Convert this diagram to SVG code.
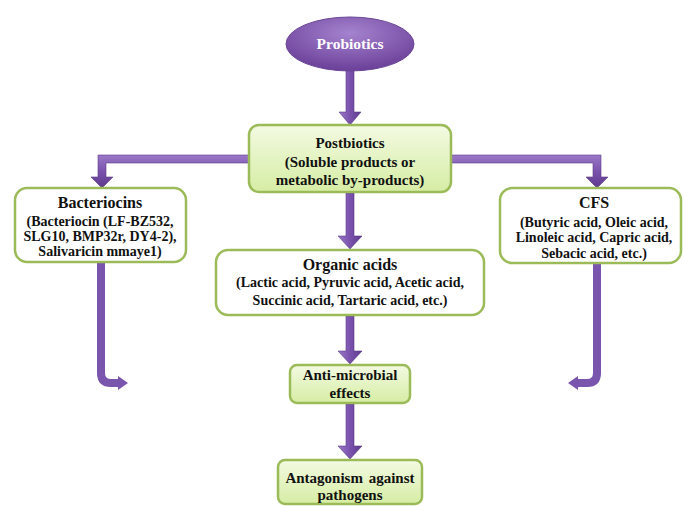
<svg xmlns="http://www.w3.org/2000/svg" width="683" height="506" viewBox="0 0 683 506">
<defs>
<radialGradient id="ellG" cx="50%" cy="30%" r="70%">
<stop offset="0" stop-color="#a583cf"/>
<stop offset="1" stop-color="#6a3f98"/>
</radialGradient>
<linearGradient id="greenG" x1="0" y1="0" x2="0" y2="1">
<stop offset="0" stop-color="#f3fae2"/>
<stop offset="1" stop-color="#d6eda4"/>
</linearGradient>
<linearGradient id="arrV" x1="0" y1="0" x2="1" y2="0">
<stop offset="0" stop-color="#9a78c8"/>
<stop offset="0.5" stop-color="#7a52ad"/>
<stop offset="1" stop-color="#5d3a8c"/>
</linearGradient>
<linearGradient id="arrH" x1="0" y1="0" x2="0" y2="1">
<stop offset="0" stop-color="#9a78c8"/>
<stop offset="0.5" stop-color="#7a52ad"/>
<stop offset="1" stop-color="#5d3a8c"/>
</linearGradient>
</defs>
<style>
text { font-family: "Liberation Serif", "Times New Roman", serif; font-weight: bold; fill: #111; text-anchor: middle; }
.t { font-size: 15px; }
.h { font-size: 16px; }
.s { font-size: 14px; }
.w { fill: #ffffff; font-size: 15.5px; }
.gbox { fill: url(#greenG); stroke: #9bbb59; stroke-width: 2.5; }
.wbox { fill: #ffffff; stroke: #9bbb59; stroke-width: 2.5; }
.arr { fill: url(#arrV); stroke: #5a3a86; stroke-width: 0.6; }
.arrh { fill: url(#arrH); stroke: #5a3a86; stroke-width: 0.6; }
.curve { fill: none; stroke: #7a55ad; stroke-width: 8; }
.head { fill: #7a55ad; }
</style>

<g id="connectors">
<polygon class="arr" points="346,70 354,70 354,112 361,112 350,125 339,112 346,112"/>
<path class="arrh" d="M249,155 H98 V177 H91 L102,188 L113,177 H106 V163 H249 Z"/>
<path class="arrh" d="M451,155 H601 V177 H608 L597,188 L586,177 H593 V163 H451 Z"/>
<polygon class="arr" points="346,193 354,193 354,236 362,236 350,249 338,236 346,236"/>
<polygon class="arr" points="346,316 354,316 354,351 362,351 350,364 338,351 346,351"/>
<polygon class="arr" points="346,404 354,404 354,446 362,446 350,459 338,446 346,446"/>
<path class="curve" d="M101,263 V373 Q101,383 111,383 H119"/>
<polygon class="head" points="118,376 128,383 118,390"/>
<path class="curve" d="M597,264 V373 Q597,383 587,383 H577"/>
<polygon class="head" points="578,376 568,383 578,390"/>
</g>

<g id="probiotics">
<ellipse cx="350" cy="44" rx="64" ry="27" fill="url(#ellG)" stroke="#6a4596" stroke-width="1"/>
<text class="w" x="350" y="49">Probiotics</text>
</g>

<g id="postbiotics">
<rect class="gbox" x="249" y="125" width="202" height="67" rx="10"/>
<text class="t" x="350" y="148">Postbiotics</text>
<text class="t" x="350" y="167">(Soluble products or</text>
<text class="t" x="350" y="185">metabolic by-products)</text>
</g>

<g id="bacteriocins">
<rect class="wbox" x="15" y="188" width="171" height="74" rx="12"/>
<text class="h" x="100" y="208">Bacteriocins</text>
<text class="s" x="100" y="226">(Bacteriocin (LF-BZ532,</text>
<text class="s" x="100" y="241">SLG10, BMP32r, DY4-2),</text>
<text class="s" x="100" y="256">Salivaricin mmaye1)</text>
</g>

<g id="cfs">
<rect class="wbox" x="500" y="188" width="181" height="75" rx="12"/>
<text class="h" x="594" y="208">CFS</text>
<text class="s" x="594" y="227">(Butyric acid, Oleic acid,</text>
<text class="s" x="594" y="242">Linoleic acid, Capric acid,</text>
<text class="s" x="594" y="258">Sebacic acid, etc.)</text>
</g>

<g id="organic">
<rect class="wbox" x="216" y="250" width="268" height="65" rx="12"/>
<text class="h" x="350" y="270">Organic acids</text>
<text class="s" x="350" y="287">(Lactic acid, Pyruvic acid, Acetic acid,</text>
<text class="s" x="350" y="305">Succinic acid, Tartaric acid, etc.)</text>
</g>

<g id="antimicrobial">
<rect class="gbox" x="290" y="365" width="120" height="38" rx="7"/>
<text class="t" x="350" y="380">Anti-microbial</text>
<text class="t" x="350" y="398">effects</text>
</g>

<g id="antagonism">
<rect class="gbox" x="278" y="460" width="144" height="44" rx="7"/>
<text class="t" x="350" y="483" word-spacing="2">Antagonism against</text>
<text class="t" x="350" y="500">pathogens</text>
</g>
</svg>
